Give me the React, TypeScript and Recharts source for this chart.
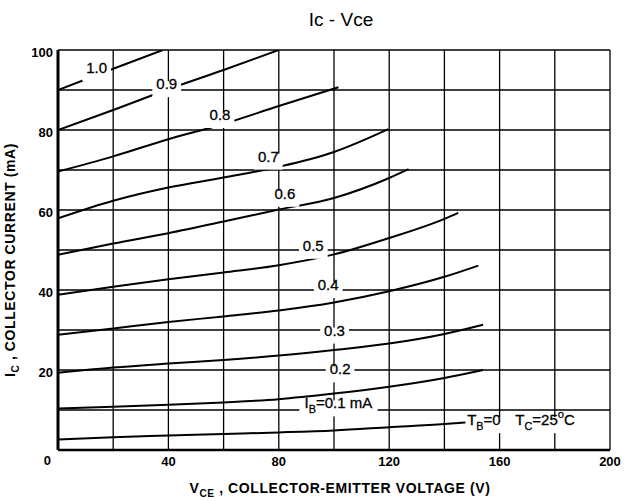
import React from 'react';
import { LineChart, Line, XAxis, YAxis, CartesianGrid, ReferenceDot, Label } from 'recharts';

const FONT = '"Liberation Sans", Arial, Helvetica, sans-serif';

// axis ticks (grid every 20 V / 10 mA, labels on every other)
const vceTicks = [0, 20, 40, 60, 80, 100, 120, 140, 160, 180, 200];
const icTicks = [0, 10, 20, 30, 40, 50, 60, 70, 80, 90, 100];
const vceLabelled = [40, 80, 120, 160, 200];
const icLabelled = [0, 20, 40, 60, 80, 100];

// Ic vs Vce curves, [Vce (V), Ic (mA)]
const ib10 = [[0, 90], [20, 95.3], [38, 100]];
const ib09 = [[0, 80], [20, 85], [40, 90.2], [60, 95], [80, 100]];
const ib08 = [[0, 69.6], [20, 73.4], [40, 77.7], [60, 81.5], [80, 86], [101.6, 90.7]];
const ib07 = [[0, 57.9], [20, 62.3], [40, 65.6], [60, 68.1], [80, 70.8], [100, 74.5], [119.7, 80.2]];
const ib06 = [[0, 48.8], [20, 51.6], [40, 54.2], [60, 57.1], [80, 60.1], [100, 63], [120, 68], [127, 70.2]];
const ib05 = [[0, 38.8], [20, 40.8], [40, 42.7], [60, 44.4], [80, 46.2], [100, 48.9], [120, 53], [140, 57.8], [145, 59.3]];
const ib04 = [[0, 28.8], [20, 30.4], [40, 32], [60, 33.4], [80, 34.9], [100, 36.9], [120, 39.7], [140, 43.3], [152.3, 46.1]];
const ib03 = [[0, 19.3], [20, 20.6], [40, 21.6], [60, 22.5], [80, 23.6], [100, 25], [120, 26.6], [140, 29], [154, 31.3]];
const ib02 = [[0, 10.4], [20, 10.8], [40, 11.3], [60, 11.9], [80, 12.7], [100, 14.1], [120, 15.8], [140, 18], [154, 20]];
const ib01 = [[0, 2.6], [20, 3.2], [40, 3.6], [60, 4.0], [80, 4.4], [100, 4.9], [120, 5.7], [140, 6.5], [150, 7]];

const curves = [ib10, ib09, ib08, ib07, ib06, ib05, ib04, ib03, ib02, ib01];

// curve annotations ("_{..}" = subscript)
const noteText = ['1.0', '0.9', '0.8', '0.7', '0.6', '0.5', '0.4', '0.3', '0.2', 'I_{B}=0.1 mA', 'T_{B}=0', 'T_{C}=25^{o}C'];
const noteVce = [14, 39.4, 58.7, 76.2, 82.2, 92.5, 97.9, 100.2, 102.2, 101.6, 154.3, 176.5];
const noteIc = [94.2, 90.2, 82.5, 72.1, 62.8, 49.8, 40, 28.6, 18.9, 10.4, 6.2, 6.2];

function rich(text: string, fontSize: number) {
  const parts = text.split(/([_^]\{[^}]*\})/).filter(Boolean);
  let off = 0;
  return parts.map((p, i) => {
    let target = 0;
    let size = fontSize;
    let s = p;
    if (p.startsWith('_{')) {
      target = fontSize * 0.3;
      size = fontSize * 0.72;
      s = p.slice(2, -1);
    } else if (p.startsWith('^{')) {
      target = -fontSize * 0.45;
      size = fontSize * 0.75;
      s = p.slice(2, -1);
    }
    const dy = target - off;
    off = target;
    return (
      <tspan key={i} dy={dy} fontSize={size}>
        {s}
      </tspan>
    );
  });
}

const plainLen = (t: string) => t.replace(/[_^]\{([^}]*)\}/g, '$1').length;

const YTick = (props: any) => {
  const { x, y, payload } = props;
  if (!icLabelled.includes(payload.value)) return <g />;
  const isZero = payload.value === 0;
  return (
    <text
      x={isZero ? x - 1 : x + 1}
      y={isZero ? y + 10 : y + 2}
      dy="0.355em"
      textAnchor="end"
      fontFamily={FONT}
      fontWeight="bold"
      fontSize={13}
      fill="#000"
    >
      {payload.value}
    </text>
  );
};

const XTick = (props: any) => {
  const { x, y, payload } = props;
  if (!vceLabelled.includes(payload.value)) return <g />;
  return (
    <text x={x} y={y} dy="0.71em" textAnchor="middle" fontFamily={FONT} fontWeight="bold" fontSize={13} fill="#000">
      {payload.value}
    </text>
  );
};

const noteShape = (text: string) => (p: any) => {
  const fs = 15;
  const w = plainLen(text) * fs * 0.55 + 4;
  return (
    <g>
      <rect x={p.cx - w / 2} y={p.cy - 8} width={w} height={16} fill="#fff" />
      <text x={p.cx} y={p.cy} dy="0.35em" textAnchor="middle" fontFamily={FONT} fontSize={fs} fill="#000" stroke="#000" strokeWidth={0.3}>
        {rich(text, fs)}
      </text>
    </g>
  );
};

export default function App() {
  return (
    <div style={{ position: 'absolute', left: 0, top: 0, width: 625, height: 501, background: '#fff' }}>
      <div
        style={{
          position: 'absolute',
          left: 0,
          top: 9,
          width: 682,
          textAlign: 'center',
          fontFamily: FONT,
          fontSize: 19,
          color: '#000',
          lineHeight: '22px',
          zIndex: 2
        }}
      >
        Ic - Vce
      </div>
      <LineChart width={625} height={501} margin={{ top: 50, right: 15, bottom: 0, left: 0 }}>
        <CartesianGrid stroke="#000" strokeWidth={1.3} />
        <XAxis
          type="number"
          dataKey="0"
          domain={[0, 200]}
          ticks={vceTicks}
          interval={0}
          height={51}
          tickLine={false}
          tickMargin={1}
          tick={<XTick />}
          axisLine={{ stroke: '#000', strokeWidth: 2.5 }}
          allowDataOverflow
        >
          <Label
            content={(p: any) => {
              const vb = p.viewBox;
              return (
                <text
                  x={vb.x + vb.width / 2 + 6}
                  y={vb.y + 43}
                  textAnchor="middle"
                  fontFamily={FONT}
                  fontWeight="bold"
                  fontSize={14}
                  letterSpacing={0.6}
                  fill="#000"
                >
                  {rich('V_{CE} , COLLECTOR-EMITTER VOLTAGE (V)', 14)}
                </text>
              );
            }}
          />
        </XAxis>
        <YAxis
          type="number"
          dataKey="1"
          domain={[0, 100]}
          ticks={icTicks}
          interval={0}
          width={58}
          tickLine={false}
          tickMargin={0}
          tick={<YTick />}
          axisLine={{ stroke: '#000', strokeWidth: 3 }}
          allowDataOverflow
        >
          <Label
            content={(p: any) => {
              const vb = p.viewBox;
              const cx = vb.x + 15;
              const cy = vb.y + vb.height / 2 + 10;
              return (
                <text
                  x={cx}
                  y={cy}
                  transform={`rotate(-90 ${cx} ${cy})`}
                  textAnchor="middle"
                  dy="0.35em"
                  fontFamily={FONT}
                  fontWeight="bold"
                  fontSize={14}
                  letterSpacing={0.6}
                  fill="#000"
                >
                  {rich('I_{C} , COLLECTOR CURRENT (mA)', 14)}
                </text>
              );
            }}
          />
        </YAxis>
        {curves.map((c, i) => (
          <Line
            key={i}
            data={c}
            dataKey="1"
            type="monotone"
            stroke="#000"
            strokeWidth={2}
            dot={false}
            activeDot={false}
            isAnimationActive={false}
          />
        ))}
        {noteText.map((t, i) => (
          <ReferenceDot key={t} x={noteVce[i]} y={noteIc[i]} r={0} ifOverflow="visible" shape={noteShape(t)} />
        ))}
      </LineChart>
    </div>
  );
}
